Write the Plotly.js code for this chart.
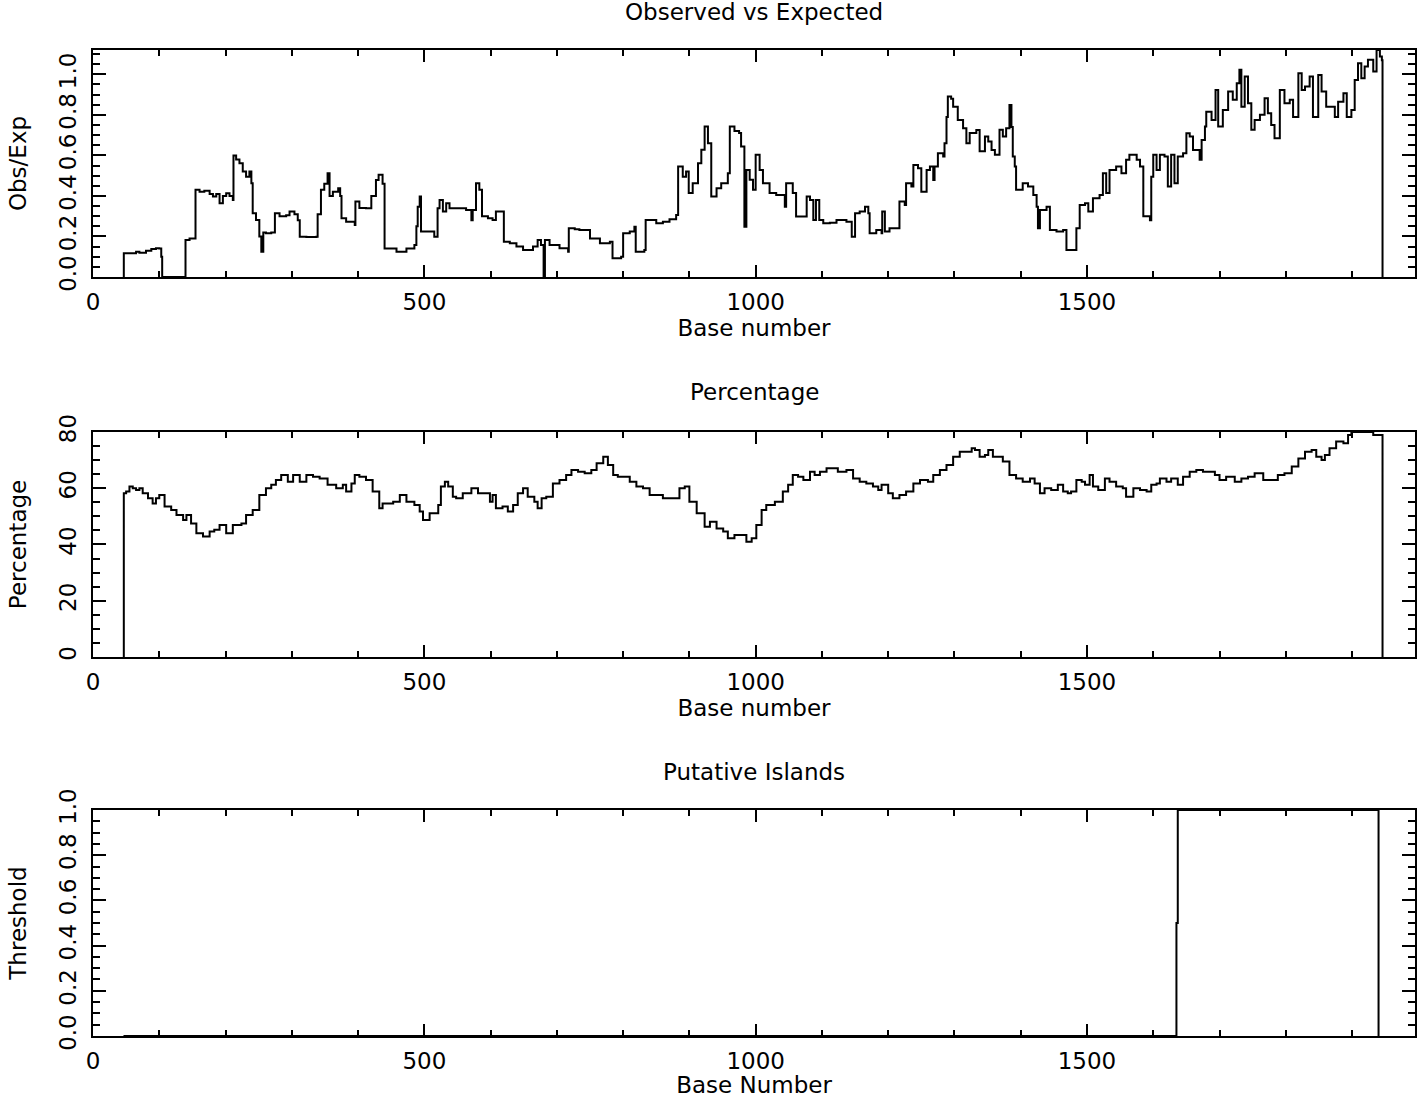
<!DOCTYPE html>
<html>
<head>
<meta charset="utf-8">
<script src="https://cdn.plot.ly/plotly-3.0.1.min.js"></script>
<style>html,body{margin:0;padding:0;background:#fff;}#chart{width:1418px;height:1098px;}</style>
</head>
<body>
<div id="chart"></div>
<script>
// ---- Observed vs Expected (Obs/Exp) ----
var obsX = [45,46.5,60,65,70,80,88,95,100,103,104.4,139.6,145.7,153,154.7,160.8,168,176,181,186,191,196,201,206,211,212,216,221,226,231,236,239,241,246,251,254,257,261,269,274.5,281.5,291.5,296.6,304,309,312,322,337,339,344,349,354,357,362,370,373,375,382,395,396,402,412,420,427,431,437,440,458,473,485,488,490,493,495,515,520,523,528,533,538,548,563,571,573,578,583,587,596,603,608,618,620,629,639,649,664,671,676,680,682,689,704,717,718,727,734,750,765,780,784,797,800,810,817,819,832,834,843,850,860,870,880,883,890,895,899,905,913,918,923,928,933,941,948,958,961,968,975,978,983,986,991,996,1000,1006,1011,1021,1031,1044,1046,1056,1061,1072,1077,1082,1087,1091,1096,1102,1112,1122,1137,1145,1150,1157,1165,1170,1172,1182,1190,1191,1195,1202,1215,1217,1225,1227,1235,1238,1245,1250,1258,1263,1268,1270,1275,1283,1285,1288,1290,1295,1298,1305,1313,1318,1323,1333,1338,1346,1351,1356,1361,1368,1373,1378,1383,1386,1388,1391,1393,1403,1411,1419,1424,1426,1429,1439,1444,1454,1464,1469,1481,1484,1489,1497,1502,1509,1519,1524,1529,1534,1544,1552,1559,1564,1575,1580,1585,1595,1597,1600,1605,1610,1617,1622,1627,1632,1637,1645,1650,1655,1660,1670,1673,1678,1680,1688,1694,1698,1705,1713,1720,1726,1730,1733,1738,1743,1748,1753,1761,1768,1773,1778,1783,1791,1798,1806,1811,1819,1824,1829,1836,1841,1849,1854,1861,1869,1874,1879,1887,1892,1899,1904,1909,1914,1919,1924,1932,1937,1942,1945,1946];
var obsY = [0,0.117,0.117,0.125,0.12,0.13,0.138,0.142,0.14,0.10,0,0.183,0.19,0.19,0.43,0.42,0.425,0.41,0.397,0.41,0.364,0.40,0.413,0.40,0.38,0.60,0.58,0.561,0.52,0.495,0.52,0.463,0.314,0.281,0.20,0.125,0.22,0.216,0.22,0.314,0.30,0.305,0.323,0.31,0.28,0.199,0.197,0.199,0.31,0.43,0.46,0.512,0.40,0.421,0.438,0.40,0.29,0.273,0.257,0.372,0.34,0.339,0.40,0.479,0.504,0.46,0.14,0.125,0.14,0.158,0.25,0.347,0.397,0.224,0.199,0.339,0.38,0.323,0.364,0.339,0.339,0.331,0.28,0.331,0.463,0.43,0.30,0.29,0.281,0.323,0.323,0.174,0.166,0.15,0.133,0.15,0.183,0.158,0,0.183,0.158,0.142,0.125,0.24,0.235,0.232,0.19,0.166,0.174,0.092,0.10,0.216,0.224,0.248,0.125,0.133,0.281,0.281,0.265,0.273,0.285,0.306,0.545,0.495,0.52,0.414,0.463,0.561,0.628,0.742,0.66,0.397,0.438,0.463,0.512,0.742,0.72,0.71,0.644,0.248,0.528,0.48,0.43,0.603,0.528,0.463,0.414,0.405,0.347,0.463,0.414,0.298,0.298,0.397,0.38,0.281,0.38,0.281,0.265,0.268,0.281,0.273,0.199,0.314,0.323,0.347,0.314,0.216,0.232,0.216,0.323,0.224,0.24,0.24,0.372,0.355,0.463,0.446,0.553,0.537,0.42,0.528,0.545,0.479,0.545,0.61,0.594,0.66,0.79,0.89,0.88,0.84,0.775,0.734,0.66,0.71,0.725,0.62,0.693,0.668,0.627,0.603,0.726,0.693,0.734,0.849,0.74,0.594,0.545,0.43,0.463,0.446,0.405,0.347,0.24,0.331,0.347,0.232,0.224,0.232,0.133,0.133,0.24,0.355,0.364,0.323,0.388,0.405,0.512,0.414,0.528,0.545,0.512,0.578,0.603,0.578,0.545,0.30,0.28,0.495,0.603,0.528,0.603,0.594,0.446,0.603,0.463,0.594,0.61,0.709,0.693,0.627,0.578,0.676,0.742,0.815,0.775,0.923,0.742,0.824,0.915,0.874,0.956,1.022,0.84,0.989,0.857,0.726,0.775,0.8,0.882,0.808,0.75,0.685,0.923,0.857,0.874,0.79,1.005,0.923,0.94,0.989,0.79,0.997,0.915,0.84,0.84,0.79,0.865,0.907,0.79,0.824,0.972,1.055,0.98,1.038,1.072,1.014,1.12,1.088,1.07,0];

// ---- Percentage ----
var pctX = [45,46.5,50,55,60,65,70,75,83,90,95,100,108,118,126,136,141,148,156,166,176,183,191,201,211,224,231,241,251,261,269,276,284,294,302,312,322,332,342,354,367,377,382,390,395,402,412,422,432,437,453,463,473,485,493,498,508,521,525,531,536,543,548,558,571,581,591,599,603,608,618,626,634,641,649,656,666,671,677,684,694,704,714,722,732,742,752,760,770,777,785,792,802,810,820,830,840,850,860,878,885,893,900,911,923,931,941,951,958,968,981,986,994,1001,1009,1016,1029,1041,1049,1056,1064,1072,1082,1089,1097,1107,1117,1124,1137,1147,1157,1167,1177,1185,1190,1200,1207,1217,1227,1238,1248,1260,1268,1278,1288,1298,1308,1318,1326,1331,1338,1346,1351,1358,1366,1373,1383,1393,1403,1414,1421,1429,1436,1446,1456,1464,1471,1476,1484,1492,1497,1504,1509,1517,1527,1534,1544,1554,1559,1570,1580,1590,1597,1605,1610,1620,1627,1637,1645,1655,1665,1675,1685,1693,1700,1710,1723,1733,1743,1753,1766,1781,1788,1798,1809,1819,1829,1839,1846,1854,1859,1866,1876,1887,1894,1899,1912,1927,1932,1942,1946];
var pctY = [0,58.2,58.8,60.6,60,59.4,60,58.2,56.4,54.6,56.4,57.6,53.5,52.3,50.5,48.7,50.5,47.5,44,42.8,44.6,45.2,46.9,44,46.9,47.5,50.5,52.3,57.6,60,61.2,62.9,64.7,62.3,64.7,62.3,64.7,64.1,63.5,61.2,60,61.2,58.8,61.7,64.7,64.1,62.9,58.8,52.9,54.6,55.2,57.6,55.2,54,51.7,48.7,51.1,54,60.6,62.3,60.6,57,56.4,58.2,60,58.2,58.2,55.2,57.6,52.9,53.5,51.7,54,58.2,60,57,55.2,52.9,56.4,57,61.7,62.9,64.7,66.5,65.9,65.3,66.5,68.9,71.2,68.3,64.7,64.1,64.1,62.3,60.6,60,57.6,57.6,56.4,56.4,60,60.6,55.2,51.1,46.3,48.1,45.7,44.6,42.2,43.4,43.4,41,42.2,46.9,52.3,54,55.2,58.8,61.2,64.7,64.1,62.9,65.9,64.7,65.9,67.1,67.1,65.9,66.5,63.5,62.3,61.7,60.6,59.4,61.2,58.2,56.4,57.6,58.8,61.7,62.9,62.3,64.7,66.5,68.3,71.2,73,73,74.2,73.6,71.2,71.8,73.6,71.2,71.2,69.5,64.7,63.5,62.3,63.5,61.7,58.2,60,59.4,61.2,58.8,58.2,58.8,62.9,62.3,61.2,64.7,60.6,59.4,63.5,62.3,60.6,60,57,60,59.4,58.8,61.2,61.7,63.5,62.3,63.5,61.2,64.1,65.9,66.5,65.9,65.9,64.7,62.9,64.1,62.3,63.5,64.1,65.3,62.9,62.9,64.7,65.3,67.7,70.6,73,73.6,71.2,70,71.8,74.2,76.6,76,78.9,80,80,80,78.9,78.9,0];

// ---- Putative Islands ----
var islX = [46,1635,1637,1939,1940];
var islY = [0,0.5,1,1,0];

var font = {family: 'DejaVu Sans, sans-serif', size: 23, color: '#000'};

var lineStyle = {color: '#000', width: 2, shape: 'hv'};
var traces = [
  {x: obsX, y: obsY, xaxis: 'x', yaxis: 'y', type: 'scatter', mode: 'lines', line: lineStyle, hoverinfo: 'skip'},
  {x: pctX, y: pctY, xaxis: 'x2', yaxis: 'y2', type: 'scatter', mode: 'lines', line: lineStyle, hoverinfo: 'skip'},
  {x: islX, y: islY, xaxis: 'x3', yaxis: 'y3', type: 'scatter', mode: 'lines', line: lineStyle, hoverinfo: 'skip'}
];

function xax(anchor, title) {
  return {
    anchor: anchor, range: [0, 1995], dtick: 500, tick0: 0,
    ticks: 'inside', ticklen: 12, tickwidth: 2, tickcolor: '#000',
    minor: {dtick: 100, tick0: 0, ticks: 'inside', ticklen: 6, tickwidth: 2, tickcolor: '#000'},
    showline: true, linewidth: 2, linecolor: '#000', mirror: 'allticks',
    showgrid: false, zeroline: false, tickfont: font, ticklabelstandoff: 3,
    title: {text: title, font: font, standoff: 0}
  };
}
function yax(domain, range, dtick, minor, fmt, title) {
  return {
    domain: domain, range: range, dtick: dtick, tick0: 0, tickformat: fmt,
    ticks: 'inside', ticklen: 13, tickwidth: 2, tickcolor: '#000',
    minor: {dtick: minor, tick0: 0, ticks: 'inside', ticklen: 7, tickwidth: 2, tickcolor: '#000'},
    showline: true, linewidth: 2, linecolor: '#000', mirror: 'allticks',
    showgrid: false, zeroline: false, tickfont: font, tickangle: -90, ticklabelstandoff: 6,
    title: {text: title, font: font, standoff: 22}
  };
}

var layout = {
  width: 1418, height: 1098,
  margin: {l: 93, r: 3, t: 50, b: 62},
  paper_bgcolor: '#fff', plot_bgcolor: '#fff',
  showlegend: false, font: font,
  xaxis: xax('y', 'Base number'),
  yaxis: yax([0.7698, 1.0], [0, 1.12], 0.2, 0.05, '.1f', 'Obs/Exp'),
  xaxis2: xax('y2', 'Base number'),
  yaxis2: yax([0.3844, 0.6126], [0, 80], 20, 5, 'd', 'Percentage'),
  xaxis3: xax('y3', 'Base Number'),
  yaxis3: yax([0, 0.2292], [0, 1.0], 0.2, 0.05, '.1f', 'Threshold'),
  annotations: [
    {text: 'Observed vs Expected', xref: 'paper', yref: 'paper', x: 0.5, y: 1.0385, xanchor: 'center', yanchor: 'middle', showarrow: false, font: font},
    {text: 'Percentage', xref: 'paper', yref: 'paper', x: 0.5, y: 0.6531, xanchor: 'center', yanchor: 'middle', showarrow: false, font: font},
    {text: 'Putative Islands', xref: 'paper', yref: 'paper', x: 0.5, y: 0.2677, xanchor: 'center', yanchor: 'middle', showarrow: false, font: font}
  ]
};

Plotly.newPlot('chart', traces, layout, {staticPlot: true, displayModeBar: false});
</script>
</body>
</html>
